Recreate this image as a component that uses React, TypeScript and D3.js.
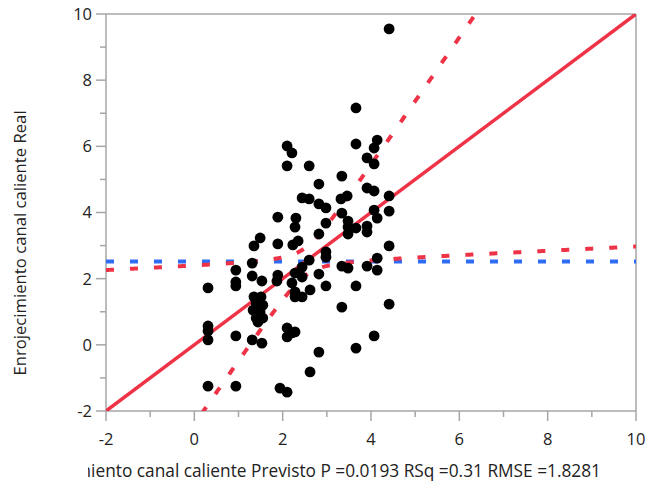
import React from "react";
import * as d3 from "d3";

// Axis ticks
const xTicks = [-2, 0, 2, 4, 6, 8, 10];
const xMinorTicks = [-1, 1, 3, 5, 7, 9];
const yTicks = [-2, 0, 2, 4, 6, 8, 10];
const yMinorTicks = [-1, 1, 3, 5, 7, 9];

// Observations: predicted (x) and actual (y)
const predicted = [
  0.31, 0.31, 0.31, 0.31, 0.31,
  0.94, 0.94, 0.94, 0.94, 0.94,
  1.49, 1.35, 1.31, 1.31, 1.53, 1.35, 1.51, 1.40, 1.55, 1.33, 1.49, 1.40, 1.55, 1.44, 1.31, 1.53,
  1.89, 1.89, 1.89, 1.87, 2.10, 2.21, 2.10, 2.30, 2.28, 2.23, 2.35, 2.28, 2.21, 2.28, 2.28, 2.10, 2.21, 2.28, 2.10, 1.94, 2.10,
  2.60, 2.44, 2.60, 2.82, 2.82, 2.98, 2.98, 2.82, 2.60, 2.44, 2.98, 2.98, 2.44, 2.82, 2.98, 2.62, 2.44, 2.82, 2.62,
  3.66, 3.66, 3.34, 3.46, 3.32, 3.34, 3.48, 3.48, 3.66, 3.48, 3.34, 3.48, 3.66, 3.34, 3.66,
  4.14, 4.07, 3.91, 4.07, 3.91, 4.07, 4.07, 3.91, 3.91, 4.14, 3.91, 4.14, 4.14, 4.07,
  4.41, 4.41, 4.41, 4.41, 4.41,
];
const actual = [
  1.72, 0.57, 0.42, 0.15, -1.25,
  2.26, 1.90, 1.78, 0.27, -1.25,
  3.23, 2.99, 2.47, 2.08, 1.93, 1.45, 1.45, 1.26, 1.20, 1.05, 0.99, 0.81, 0.81, 0.69, 0.15, 0.05,
  3.86, 3.05, 2.11, 1.93, 6.01, 5.80, 5.41, 3.83, 3.56, 3.02, 3.14, 2.17, 1.87, 1.60, 1.45, 0.51, 0.36, 0.39, 0.24, -1.31, -1.43,
  5.41, 4.44, 4.41, 4.86, 4.26, 4.14, 3.68, 3.35, 2.56, 2.35, 2.81, 2.65, 2.05, 2.14, 1.78, 1.66, 1.45, -0.22, -0.82,
  7.16, 6.07, 5.10, 4.50, 4.41, 3.98, 3.74, 3.56, 3.53, 3.35, 2.38, 2.32, 1.78, 1.14, -0.10,
  6.19, 5.95, 5.65, 5.47, 4.74, 4.65, 4.07, 3.59, 3.41, 3.83, 2.38, 2.62, 2.26, 0.27,
  9.55, 4.50, 4.04, 2.99, 1.23,
];

// Fit summary
const meanActual = 2.52;
const meanPredicted = 2.52;
const fitSlope = 1;
const fitIntercept = 0;
const confFactor = 0.938;
const confOffset = 0.2;

const yTitle = "Enrojecimiento canal caliente Real";
const xTitle = "Enrojecimiento canal caliente Previsto P =0.0193 RSq =0.31 RMSE =1.8281";

const W = 646;
const H = 484;
const L = 106, R = 636, T = 14, B = 411;
const RED = "#ef3347";
const BLUE = "#2e6cf5";
const GRAY = "#a6a6a6";
const FONT = "'Open Sans', 'Noto Sans', sans-serif";

export default function App() {
  const x = d3.scaleLinear().domain([-2, 10]).range([L, R]);
  const y = d3.scaleLinear().domain([-2, 10]).range([B, T]);
  const line = d3.line<[number, number]>().x((d) => x(d[0])).y((d) => y(d[1]));

  const xs = d3.range(-2, 10.0001, 0.02);
  const fitY = (v: number) => fitIntercept + fitSlope * v;
  const half = (v: number) => confFactor * Math.sqrt(confOffset + (v - meanPredicted) ** 2);
  const upper = xs.map((v) => [v, fitY(v) + half(v)] as [number, number]);
  const lower = xs.map((v) => [v, fitY(v) - half(v)] as [number, number]);
  const fitLine: [number, number][] = [[-2, fitY(-2)], [10, fitY(10)]];
  const meanLine: [number, number][] = [[-2, meanActual], [10, meanActual]];

  return (
    <div>
      <style>{`body{margin:0}`}</style>
      <svg width={W} height={H} style={{ display: "block", fontFamily: FONT }}>
        <defs>
          <clipPath id="plot">
            <rect x={L} y={T} width={R - L} height={B - T} />
          </clipPath>
          <clipPath id="xtitle">
            <rect x={88} y={440} width={W - 88} height={44} />
          </clipPath>
        </defs>
        <rect x={0} y={0} width={W} height={H} fill="#fff" />
        {/* frame */}
        <line x1={L} x2={R} y1={T} y2={T} stroke={GRAY} strokeWidth={1.5} />
        <line x1={R} x2={R} y1={T} y2={B} stroke={GRAY} strokeWidth={1.5} />
        <line x1={L} x2={L} y1={T} y2={B} stroke={GRAY} strokeWidth={1.5} />
        <line x1={L} x2={R} y1={B} y2={B} stroke={GRAY} strokeWidth={1.5} />
        {/* y ticks */}
        {yTicks.map((t) => (
          <g key={"yt" + t}>
            <line x1={L - 10} x2={L} y1={y(t)} y2={y(t)} stroke={GRAY} strokeWidth={1.5} />
            <text x={L - 14} y={y(t)} dy="0.36em" textAnchor="end" fontSize={16.5} fill="#222">
              {t}
            </text>
          </g>
        ))}
        {yMinorTicks.map((t) => (
          <line key={"ym" + t} x1={L - 6} x2={L} y1={y(t)} y2={y(t)} stroke={GRAY} strokeWidth={1.5} />
        ))}
        {/* x ticks */}
        {xTicks.map((t) => (
          <g key={"xt" + t}>
            <line x1={x(t)} x2={x(t)} y1={B} y2={B + 10} stroke={GRAY} strokeWidth={1.5} />
            <text x={x(t)} y={B + 34} textAnchor="middle" fontSize={16.5} fill="#222">
              {t}
            </text>
          </g>
        ))}
        {xMinorTicks.map((t) => (
          <line key={"xm" + t} x1={x(t)} x2={x(t)} y1={B} y2={B + 6} stroke={GRAY} strokeWidth={1.5} />
        ))}
        <g clipPath="url(#plot)">
          <path d={line(meanLine) || ""} fill="none" stroke={BLUE} strokeWidth={4} strokeDasharray="8,16" />
          <path d={line(upper) || ""} fill="none" stroke={RED} strokeWidth={4} strokeDasharray="8,16" />
          <path d={line(lower) || ""} fill="none" stroke={RED} strokeWidth={4} strokeDasharray="8,16" />
          <path d={line(fitLine) || ""} fill="none" stroke={RED} strokeWidth={3.5} />
        </g>
        {predicted.map((p, i) => (
          <circle key={i} cx={x(p)} cy={y(actual[i])} r={5.4} fill="#000" />
        ))}
        <text
          transform={`translate(26, 243) rotate(-90)`}
          textAnchor="middle"
          fontSize={16.7}
          fill="#222"
        >
          {yTitle}
        </text>
        <g clipPath="url(#xtitle)">
          <text x={601} y={477} textAnchor="end" fontSize={17.3} fill="#222">
            {xTitle}
          </text>
        </g>
      </svg>
    </div>
  );
}
